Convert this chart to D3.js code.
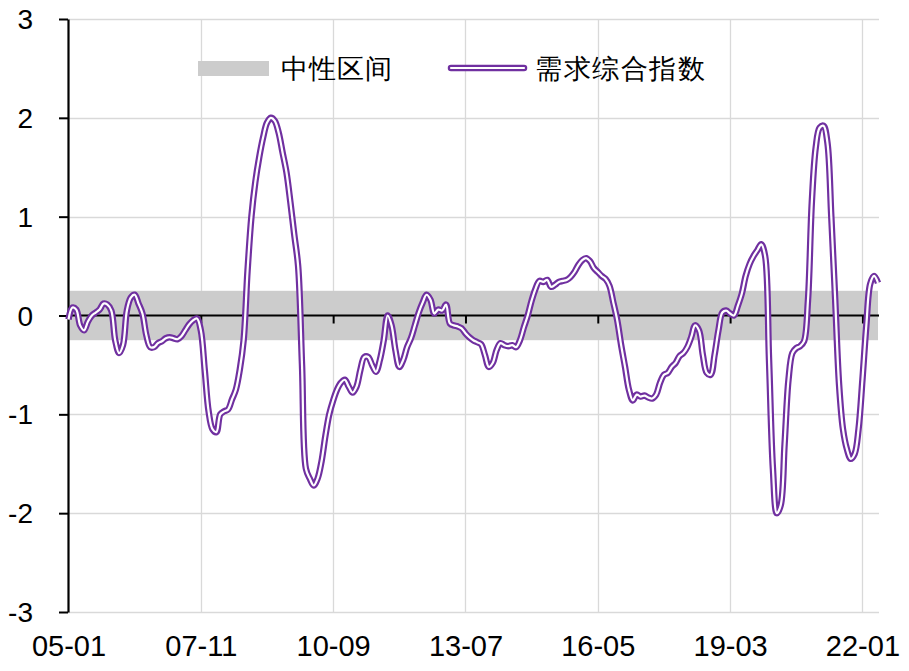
<!DOCTYPE html>
<html>
<head>
<meta charset="utf-8">
<script src="https://cdn.jsdelivr.net/npm/d3@7"></script>
<style>
  body { margin: 0; background: #fff; }
  text { font-family: "Liberation Sans", Arial, sans-serif; }
</style>
</head>
<body>
<div id="chart"></div>
<script>
// DATA
var startYear = 2005,
  monthCount = 209;

// month categories, 05-01 ... 22-05
var months = [];
for (var k = 0; k < monthCount; k++) {
  var yy = startYear + Math.floor(k / 12),
    mm = (k % 12) + 1;
  months.push(String(yy % 100).padStart(2, "0") + "-" + String(mm).padStart(2, "0"));
}

var tickLabels = ["05-01", "07-11", "10-09", "13-07", "16-05", "19-03", "22-01"];
var yTicks = [-3, -2, -1, 0, 1, 2, 3];

// neutral band
var bandLow = -0.25,
  bandHigh = 0.25;

// 需求综合指数, monthly
var demandIndex = [
  -0.04, 0.08, 0.06, -0.10, -0.15, -0.06, 0.00, 0.03, 0.06, 0.12, 0.11, 0.05,
  -0.25, -0.38, -0.30, 0.05, 0.18, 0.21, 0.12, 0.02, -0.20, -0.32, -0.32, -0.28,
  -0.26, -0.23, -0.22, -0.23, -0.24, -0.21, -0.15, -0.09, -0.05, -0.03, -0.15, -0.55,
  -0.97, -1.15, -1.18, -1.00, -0.97, -0.95, -0.85, -0.75, -0.55, -0.25, 0.45, 1.00,
  1.35, 1.60, 1.80, 1.95, 2.00, 1.97, 1.85, 1.65, 1.45, 1.15, 0.82, 0.50,
  -0.50, -1.55, -1.65, -1.72, -1.65, -1.48, -1.22, -1.00, -0.86, -0.75, -0.68, -0.65,
  -0.72, -0.78, -0.72, -0.55, -0.42, -0.42, -0.50, -0.57, -0.45, -0.25, 0.00, -0.10,
  -0.35, -0.52, -0.45, -0.32, -0.23, -0.10, 0.03, 0.13, 0.21, 0.16, 0.02, 0.06,
  0.05, 0.11, -0.08, -0.10, -0.11, -0.13, -0.18, -0.22, -0.25, -0.27, -0.29, -0.40,
  -0.52, -0.48, -0.35, -0.28, -0.30, -0.31, -0.30, -0.32, -0.25, -0.12, 0.00, 0.15,
  0.27, 0.35, 0.34, 0.36, 0.29, 0.31, 0.34, 0.35, 0.36, 0.39, 0.44, 0.51,
  0.56, 0.58, 0.55, 0.48, 0.44, 0.40, 0.37, 0.30, 0.13, -0.05, -0.30, -0.52,
  -0.75, -0.86, -0.80, -0.82, -0.81, -0.83, -0.84, -0.80, -0.68, -0.60, -0.58, -0.52,
  -0.48, -0.41, -0.38, -0.32, -0.22, -0.10, -0.15, -0.40, -0.58, -0.60, -0.40, -0.15,
  0.03, 0.05, 0.02, 0.00, 0.10, 0.22, 0.40, 0.52, 0.60, 0.66, 0.72, 0.60,
  -0.45, -1.55, -2.00, -1.92, -1.30, -0.65, -0.38, -0.33, -0.31, -0.26, 0.15, 1.15,
  1.70, 1.90, 1.92, 1.75, 1.00, 0.16, -0.70, -1.15, -1.35, -1.45, -1.40, -1.15,
  -0.65, -0.10, 0.32, 0.40, 0.33
];

var legendNames = ["中性区间", "需求综合指数"];

var purple = "#7030a0",
  bandColor = "#cccccc",
  gridColor = "#d9d9d9";

// SVG
var width = 909,
  height = 671;

var svg = d3.select("#chart").append("svg")
  .attr("width", width)
  .attr("height", height);

svg.append("rect").attr("width", width).attr("height", height).attr("fill", "#fff");

var plotLeft = 68,
  plotRight = 879,
  plotTop = 19,
  plotBottom = 612;

var xScale = d3.scalePoint().domain(months).range([68.5, 878]);
var yScale = d3.scaleLinear().domain([-3, 3]).range([plotBottom, plotTop]);

// horizontal gridlines
svg.append("g")
  .selectAll("line")
  .data(yTicks)
  .enter()
  .append("line")
  .attr("x1", plotLeft)
  .attr("x2", plotRight)
  .attr("y1", function (d) { return Math.round(yScale(d)) + 0.5; })
  .attr("y2", function (d) { return Math.round(yScale(d)) + 0.5; })
  .attr("stroke", gridColor)
  .attr("stroke-width", 1.3);

// vertical gridlines
svg.append("g")
  .selectAll("line")
  .data(tickLabels.slice(1))
  .enter()
  .append("line")
  .attr("x1", function (d) { return Math.round(xScale(d)) + 0.5; })
  .attr("x2", function (d) { return Math.round(xScale(d)) + 0.5; })
  .attr("y1", plotTop)
  .attr("y2", plotBottom)
  .attr("stroke", gridColor)
  .attr("stroke-width", 1.3);

// neutral band
svg.append("rect")
  .attr("x", xScale(months[0]))
  .attr("width", xScale(months[months.length - 1]) - xScale(months[0]))
  .attr("y", yScale(bandHigh))
  .attr("height", yScale(bandLow) - yScale(bandHigh))
  .attr("fill", bandColor);

// x axis at zero, with ticks
var xAxis = svg.append("g")
  .attr("transform", "translate(0," + yScale(0) + ")")
  .call(d3.axisBottom(xScale).tickValues(tickLabels.slice(1)).tickSize(8).tickSizeOuter(0).tickFormat(""));
xAxis.select(".domain")
  .attr("d", "M" + plotLeft + ",0H" + plotRight)
  .attr("stroke", "#000")
  .attr("stroke-width", 2.2);
xAxis.selectAll(".tick line").attr("stroke", "#000").attr("stroke-width", 2);

// x labels at the bottom
var xLabels = svg.append("g")
  .attr("transform", "translate(0," + plotBottom + ")")
  .call(d3.axisBottom(xScale).tickValues(tickLabels).tickSize(0).tickPadding(23));
xLabels.select(".domain").remove();
xLabels.selectAll("text")
  .attr("font-size", 29)
  .attr("font-family", "'Liberation Sans', Arial, sans-serif")
  .attr("fill", "#000")
  .attr("dy", "0.71em");

// y axis
var yAxis = svg.append("g")
  .attr("transform", "translate(" + plotLeft + ",0)")
  .call(d3.axisLeft(yScale).tickValues(yTicks).tickFormat(function (d) { return String(d); })
    .tickSize(9).tickSizeOuter(0).tickPadding(26));
yAxis.select(".domain").attr("stroke", "#000").attr("stroke-width", 2.2);
yAxis.selectAll(".tick line").attr("stroke", "#000").attr("stroke-width", 2);
yAxis.selectAll("text")
  .attr("font-size", 28)
  .attr("font-family", "'Liberation Sans', Arial, sans-serif")
  .attr("fill", "#000")
  .attr("dy", "0.34em");

// line (double style: purple outer, white inner)
var line = d3.line()
  .x(function (d, i) { return xScale(months[i]); })
  .y(function (d) { return yScale(d); })
  .curve(d3.curveCatmullRom.alpha(0.5));

svg.append("path")
  .datum(demandIndex)
  .attr("d", line)
  .attr("fill", "none")
  .attr("stroke", purple)
  .attr("stroke-width", 6.5)
  .attr("stroke-linejoin", "round");

svg.append("path")
  .datum(demandIndex)
  .attr("d", line)
  .attr("fill", "none")
  .attr("stroke", "#fff")
  .attr("stroke-width", 2.2)
  .attr("stroke-linejoin", "round");

// legend
var legend = svg.append("g");
legend.append("rect")
  .attr("x", 198).attr("y", 61)
  .attr("width", 71).attr("height", 15)
  .attr("fill", bandColor);
legend.append("text")
  .attr("x", 281).attr("y", 78)
  .attr("font-size", 27)
  .attr("letter-spacing", 1)
  .attr("font-family", "'Noto Sans CJK SC', sans-serif")
  .text(legendNames[0]);

legend.append("line")
  .attr("x1", 451).attr("x2", 524).attr("y1", 68).attr("y2", 68)
  .attr("stroke", purple).attr("stroke-width", 6.5).attr("stroke-linecap", "round");
legend.append("line")
  .attr("x1", 451).attr("x2", 524).attr("y1", 68).attr("y2", 68)
  .attr("stroke", "#fff").attr("stroke-width", 2.2).attr("stroke-linecap", "round");
legend.append("text")
  .attr("x", 535).attr("y", 78)
  .attr("font-size", 27)
  .attr("letter-spacing", 1.5)
  .attr("font-family", "'Noto Sans CJK SC', sans-serif")
  .text(legendNames[1]);
</script>
</body>
</html>
